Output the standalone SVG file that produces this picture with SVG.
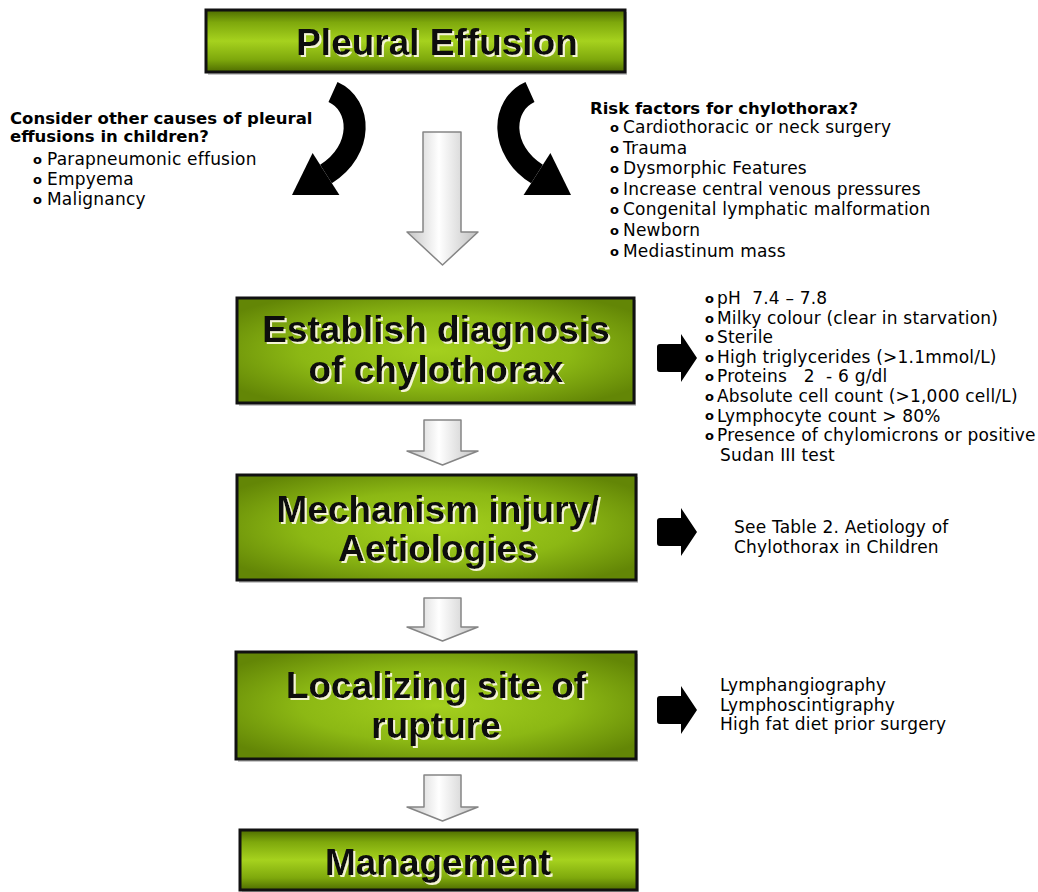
<svg xmlns="http://www.w3.org/2000/svg" width="1038" height="892" viewBox="0 0 1038 892">
<defs>
<linearGradient id="gV" x1="0" y1="0" x2="0" y2="1">
<stop offset="0" stop-color="#4e6c00"/>
<stop offset="0.2" stop-color="#7ea80c"/>
<stop offset="0.5" stop-color="#a6d21e"/>
<stop offset="0.8" stop-color="#7ea80c"/>
<stop offset="1" stop-color="#4e6c00"/>
</linearGradient>
<radialGradient id="gR" cx="0.5" cy="0.5" r="0.62">
<stop offset="0" stop-color="#a4d01e"/>
<stop offset="0.55" stop-color="#8cb814"/>
<stop offset="1" stop-color="#638606"/>
</radialGradient>
<linearGradient id="gA" x1="0" y1="0" x2="1" y2="0">
<stop offset="0" stop-color="#c4c4c4"/>
<stop offset="0.45" stop-color="#ffffff"/>
<stop offset="1" stop-color="#c0c0c0"/>
</linearGradient>
<filter id="ts" x="-5%" y="-10%" width="112%" height="130%">
<feOffset in="SourceAlpha" dx="2" dy="2" result="o"/>
<feFlood flood-color="#f4f4d4"/>
<feComposite in2="o" operator="in" result="s"/>
<feMerge><feMergeNode in="s"/><feMergeNode in="SourceGraphic"/></feMerge>
</filter>
<style>
.box{stroke:#111;stroke-width:3}
.shd{fill:#9a9a9a;opacity:0.55}
.bt{font-family:"Liberation Sans",Arial,sans-serif;font-weight:bold;font-size:37px;text-anchor:middle;fill:#0a0a0a;filter:url(#ts)}
.hd{font-family:"DejaVu Sans",Verdana,sans-serif;font-weight:bold;font-size:16.5px;fill:#000}
.tx{font-family:"DejaVu Sans",Verdana,sans-serif;font-size:17px;letter-spacing:0.2px;fill:#000}
.bl{font-family:"DejaVu Sans",Verdana,sans-serif;font-weight:bold;font-size:13px;fill:#000}
.hol{fill:url(#gA);stroke:#858585;stroke-width:1.5;stroke-linejoin:round}
.blk{fill:#000}
.curv{fill:none;stroke:#000;stroke-width:22}
</style>
</defs>

<g id="connectors">
<path class="curv" d="M333,92 C362,105 364,150 326,174"/>
<path class="blk" d="M292,195 L339.4,195.1 L312.6,152.9 Z"/>
<path class="curv" d="M530,92 C501,105 499,150 537,174"/>
<path class="blk" d="M571,195 L523.6,195.1 L550.4,152.9 Z"/>
<path class="hol" d="M423,132 H461 V232 H478 L442.5,265 L407,232 H423 Z"/>
<path class="hol" d="M424,420 H461 V451 H478 L442.5,465 L407,451 H424 Z"/>
<path class="hol" d="M424,598 H461 V627 H478 L442.5,641 L407,627 H424 Z"/>
<path class="hol" d="M424,775 H461 V807 H478 L442.5,821 L407,807 H424 Z"/>
<path class="blk" d="M660,344 H681 V334 L697,358 L681,382 V372 H660 Q657,372 657,369 V347 Q657,344 660,344 Z"/>
<path class="blk" d="M660,518 H681 V508 L697,532 L681,556 V546 H660 Q657,546 657,543 V521 Q657,518 660,518 Z"/>
<path class="blk" d="M660,696 H681 V686 L697,710 L681,734 V724 H660 Q657,724 657,721 V699 Q657,696 660,696 Z"/>
</g>

<g id="node-pleural">
<rect class="shd" x="208" y="12" width="419" height="63"/>
<rect class="box" x="206" y="10" width="419" height="62" fill="url(#gV)"/>
<text class="bt" x="437" y="55">Pleural Effusion</text>
</g>

<g id="node-other-causes">
<text class="hd" x="10" y="124">Consider other causes of pleural</text>
<text class="hd" x="10" y="142">effusions in children?</text>
<text class="bl" x="33" y="164">o</text><text class="tx" x="47" y="165">Parapneumonic effusion</text>
<text class="bl" x="33" y="184">o</text><text class="tx" x="47" y="185">Empyema</text>
<text class="bl" x="33" y="204">o</text><text class="tx" x="47" y="205">Malignancy</text>
</g>

<g id="node-risk-factors">
<text class="hd" x="590" y="114">Risk factors for chylothorax?</text>
<text class="bl" x="610" y="132">o</text><text class="tx" x="623" y="133">Cardiothoracic or neck surgery</text>
<text class="bl" x="610" y="153">o</text><text class="tx" x="623" y="154">Trauma</text>
<text class="bl" x="610" y="173">o</text><text class="tx" x="623" y="174">Dysmorphic Features</text>
<text class="bl" x="610" y="194">o</text><text class="tx" x="623" y="195">Increase central venous pressures</text>
<text class="bl" x="610" y="214">o</text><text class="tx" x="623" y="215">Congenital lymphatic malformation</text>
<text class="bl" x="610" y="235">o</text><text class="tx" x="623" y="236">Newborn</text>
<text class="bl" x="610" y="256">o</text><text class="tx" x="623" y="257">Mediastinum mass</text>
</g>

<g id="node-diagnosis">
<rect class="shd" x="239" y="300" width="397" height="106"/>
<rect class="box" x="237" y="298" width="397" height="105" fill="url(#gR)"/>
<text class="bt" x="436" y="342">Establish diagnosis</text>
<text class="bt" x="436" y="382">of chylothorax</text>
</g>

<g id="node-diagnosis-criteria">
<text class="bl" x="705" y="303">o</text><text class="tx" x="717" y="304">pH&#160;&#160;7.4 – 7.8</text>
<text class="bl" x="705" y="323">o</text><text class="tx" x="717" y="323.6">Milky colour (clear in starvation)</text>
<text class="bl" x="705" y="342">o</text><text class="tx" x="717" y="343.2">Sterile</text>
<text class="bl" x="705" y="362">o</text><text class="tx" x="717" y="362.8">High triglycerides (&gt;1.1mmol/L)</text>
<text class="bl" x="705" y="381">o</text><text class="tx" x="717" y="382.4">Proteins&#160;&#160;&#160;2&#160;&#160;- 6 g/dl</text>
<text class="bl" x="705" y="401">o</text><text class="tx" x="717" y="402">Absolute cell count (&gt;1,000 cell/L)</text>
<text class="bl" x="705" y="420">o</text><text class="tx" x="717" y="421.6">Lymphocyte count &gt; 80%</text>
<text class="bl" x="705" y="440">o</text><text class="tx" x="717" y="441.2">Presence of chylomicrons or positive</text>
<text class="tx" x="720" y="460.8">Sudan III test</text>
</g>

<g id="node-mechanism">
<rect class="shd" x="239" y="477" width="399" height="106"/>
<rect class="box" x="237" y="475" width="399" height="105" fill="url(#gR)"/>
<text class="bt" x="438" y="522">Mechanism injury/</text>
<text class="bt" x="438" y="561">Aetiologies</text>
</g>

<g id="node-table-ref">
<text class="tx" x="734" y="533">See Table 2. Aetiology of</text>
<text class="tx" x="734" y="553">Chylothorax in Children</text>
</g>

<g id="node-localizing">
<rect class="shd" x="238" y="654" width="400" height="108"/>
<rect class="box" x="236" y="652" width="400" height="107" fill="url(#gR)"/>
<text class="bt" x="436" y="698">Localizing site of</text>
<text class="bt" x="436" y="738">rupture</text>
</g>

<g id="node-imaging">
<text class="tx" x="720" y="691">Lymphangiography</text>
<text class="tx" x="720" y="711">Lymphoscintigraphy</text>
<text class="tx" x="720" y="730">High fat diet prior surgery</text>
</g>

<g id="node-management">
<rect class="shd" x="242" y="832" width="397" height="62"/>
<rect class="box" x="240" y="830" width="397" height="60" fill="url(#gV)"/>
<text class="bt" x="438" y="875">Management</text>
</g>
</svg>
